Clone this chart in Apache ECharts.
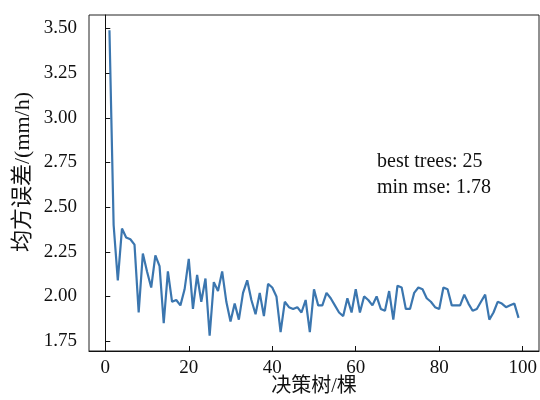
<!DOCTYPE html>
<html>
<head>
<meta charset="utf-8">
<script src="https://cdn.jsdelivr.net/npm/echarts@6/dist/echarts.min.js"></script>
<style>html,body{margin:0;padding:0;background:#fff}#c{width:540px;height:400px}</style>
</head>
<body>
<div id="c"></div>
<script>
var mse = [3.49,2.40,2.09,2.38,2.33,2.32,2.29,1.91,2.24,2.14,
2.05,2.23,2.17,1.85,2.14,1.97,1.98,1.95,2.04,2.21,
1.93,2.12,1.97,2.10,1.78,2.08,2.03,2.14,1.97,1.86,
1.96,1.87,2.02,2.09,1.98,1.90,2.02,1.89,2.07,2.05,
2.00,1.80,1.97,1.94,1.93,1.94,1.91,1.98,1.80,2.04,
1.95,1.95,2.02,1.99,1.95,1.91,1.89,1.99,1.91,2.04,
1.91,2.00,1.98,1.95,2.00,1.93,1.92,2.03,1.87,2.06,
2.05,1.93,1.93,2.02,2.05,2.04,1.99,1.97,1.94,1.93,
2.05,2.04,1.95,1.95,1.95,2.01,1.96,1.92,1.93,1.97,
2.01,1.87,1.91,1.97,1.96,1.94,1.95,1.96,1.88];
var xTicks = [0,20,40,60,80,100];
var yTicks = [1.75,2.00,2.25,2.50,2.75,3.00,3.25,3.50];
var xName = '决策树/棵';
var yName = '均方误差/(mm/h)';
var noteLines = ['best trees: 25','min mse: 1.78'];

var data = mse.map(function(v,i){return [i+1, v];});
var serif = '"Liberation Serif","Noto Sans CJK SC",serif';
var chart = echarts.init(document.getElementById('c'), null, {renderer:'canvas'});
chart.setOption({
  animation:false,
  backgroundColor:'#fff',
  grid:{left:89,right:1,top:15,bottom:49,containLabel:false,outerBoundsMode:'none',
    show:true,borderColor:'#222',borderWidth:1,backgroundColor:'transparent'},
  xAxis:{type:'value',min:-3.9,max:103.9,
    name:xName,nameLocation:'middle',nameGap:26,nameMoveOverlap:false,
    nameTextStyle:{fontFamily:serif,fontSize:20,color:'#111'},
    axisLine:{show:true,lineStyle:{color:'#111',width:1}},
    axisTick:{show:true,inside:true,length:5,customValues:xTicks,lineStyle:{color:'#111'}},
    axisLabel:{customValues:xTicks,fontFamily:serif,fontSize:19,color:'#111',margin:8},
    splitLine:{show:false}},
  yAxis:{type:'value',min:1.6945,max:3.5755,
    axisLine:{show:true,lineStyle:{color:'#111',width:1}},
    axisTick:{show:true,inside:true,length:5,customValues:yTicks,lineStyle:{color:'#111'}},
    axisLabel:{customValues:yTicks,fontFamily:serif,fontSize:19,color:'#111',margin:12,
      formatter:function(v){return v.toFixed(2);}},
    splitLine:{show:false}},
  series:[{type:'line',data:data,showSymbol:false,
    lineStyle:{color:'#3b76af',width:2.2},itemStyle:{color:'#3b76af'}}],
  graphic:[
    {type:'text',left:377,top:149,style:{text:noteLines.join('\n'),
      font:'20px "Liberation Serif",serif',fill:'#111',lineHeight:26}},
    {type:'text',x:23,y:172,rotation:Math.PI/2,style:{text:yName,
      font:'22px "Liberation Serif","Noto Sans CJK SC",serif',fill:'#111',
      textAlign:'center',textVerticalAlign:'middle'}}
  ]
});
</script>
</body>
</html>
